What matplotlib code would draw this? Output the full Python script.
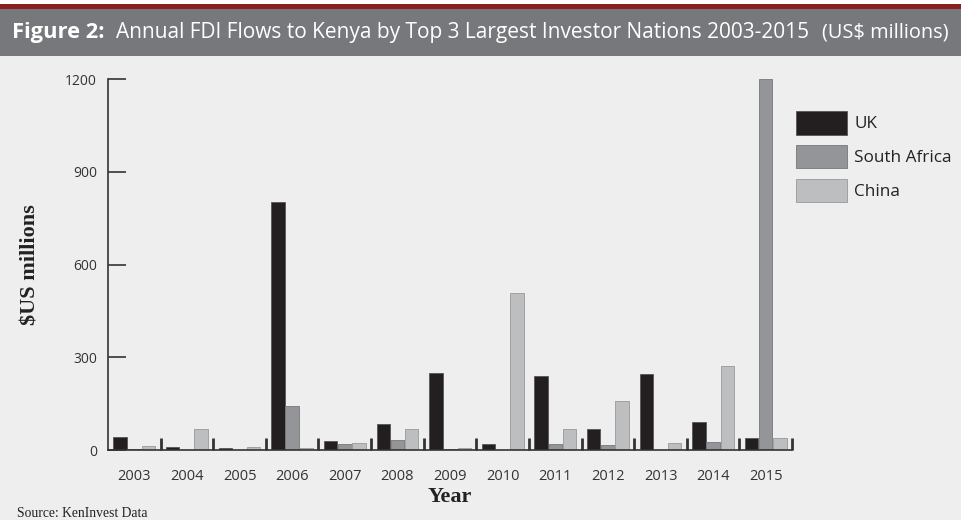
import numpy as np
import matplotlib.pyplot as plt
from matplotlib.patches import Rectangle

years = ['2003', '2004', '2005', '2006', '2007', '2008', '2009',
         '2010', '2011', '2012', '2013', '2014', '2015']
uk = [43, 10, 5, 801, 29, 83, 249, 19, 240, 67, 245, 92, 40]
south_africa = [2, 1, 1, 143, 20, 33, 2, 1, 18, 17, 1, 27, 1200]
china = [12, 69, 10, 7, 22, 68, 8, 507, 67, 159, 23, 273, 39]

bg = '#eeeeee'
col_uk = '#231f20'
col_sa = '#939598'
col_cn = '#bcbec0'
W, H = 961, 520

fig = plt.figure(figsize=(W / 100, H / 100), dpi=100, facecolor=bg)
renderer = fig.canvas.get_renderer()

# header band
fig.patches.append(Rectangle((0, 0.892), 1, 0.091, transform=fig.transFigure,
                             facecolor='#77787b', edgecolor='none'))
fig.patches.append(Rectangle((0, 0.983), 1, 0.009, transform=fig.transFigure,
                             facecolor='#8b1e1e', edgecolor='none'))
fig.patches.append(Rectangle((0, 0.992), 1, 0.008, transform=fig.transFigure,
                             facecolor='white', edgecolor='none'))


def fitted_text(x0, x1, s, size, **kw):
    # place text starting at pixel x0, scale font so it ends near x1
    t = fig.text(x0 / W, 0.937, s, color='white', fontsize=size,
                 va='center', **kw)
    wpx = t.get_window_extent(renderer).width
    t.set_fontsize(size * (x1 - x0) / wpx)
    return t


fitted_text(12, 105, 'Figure 2:', 14, family='Open Sans', fontweight='bold')
fitted_text(116, 815, 'Annual FDI Flows to Kenya by Top 3 Largest Investor Nations 2003-2015',
            14, family='Open Sans')
fitted_text(822, 948, '(US$ millions)', 12, family='Open Sans')

ax = fig.add_axes([0.1124, 0.1346, 0.7118, 0.7134])
ax.set_facecolor(bg)

x = np.arange(len(years))
w = 0.255
ax.bar(x - 0.27, uk, w, color=col_uk, edgecolor='#555555', linewidth=0.6, label='UK')
ax.bar(x, south_africa, w, color=col_sa, edgecolor='#777777', linewidth=0.6, label='South Africa')
ax.bar(x + 0.27, china, w, color=col_cn, edgecolor='#999999', linewidth=0.6, label='China')

ax.set_xlim(-0.5, len(years) - 0.5)
ax.set_ylim(0, 1200)

for s in ['top', 'right']:
    ax.spines[s].set_visible(False)
ax.spines['left'].set_color('#333333')
ax.spines['bottom'].set_color('#333333')
ax.spines['left'].set_linewidth(1.2)
ax.spines['bottom'].set_linewidth(1.2)

ax.set_yticks([0, 300, 600, 900, 1200])
ax.tick_params(axis='y', direction='in', length=13, width=1.2, color='#333333',
               labelsize=10, labelcolor='#333333', pad=8)
for t in ax.get_yticklabels():
    t.set_family('Open Sans')

# group boundary ticks (no labels), year labels on minor ticks
ax.set_xticks(np.arange(0.5, len(years) - 0.5 + 0.01, 1.0))
ax.set_xticklabels([])
ax.tick_params(axis='x', which='major', direction='in', length=9, width=2,
               color='#333333')
ax.set_xticks(x, minor=True)
ax.set_xticklabels(years, minor=True)
ax.tick_params(axis='x', which='minor', length=0, labelsize=10.5,
               labelcolor='#333333', pad=14)
for t in ax.get_xticklabels(minor=True):
    t.set_family('Open Sans')

ax.set_ylabel('$US millions', fontsize=16, fontweight='bold',
              family='Liberation Serif', color='#222222', labelpad=18)
ax.set_xlabel('Year', fontsize=16, fontweight='bold',
              family='Liberation Serif', color='#222222', labelpad=2)

leg = fig.legend(loc='upper left', bbox_to_anchor=(796 / W, 1 - 111 / H),
                 frameon=False, borderpad=0, borderaxespad=0,
                 handlelength=3.0, handleheight=1.75, labelspacing=0.6,
                 handletextpad=0.42, prop={'family': 'Open Sans', 'size': 12.3})
for t in leg.get_texts():
    t.set_color('#222222')

fig.text(0.018, 0.006, 'Source: KenInvest Data', fontsize=9.8,
         family='Liberation Serif', color='#222222')

fig.savefig('out.png', dpi=100, facecolor=bg)
